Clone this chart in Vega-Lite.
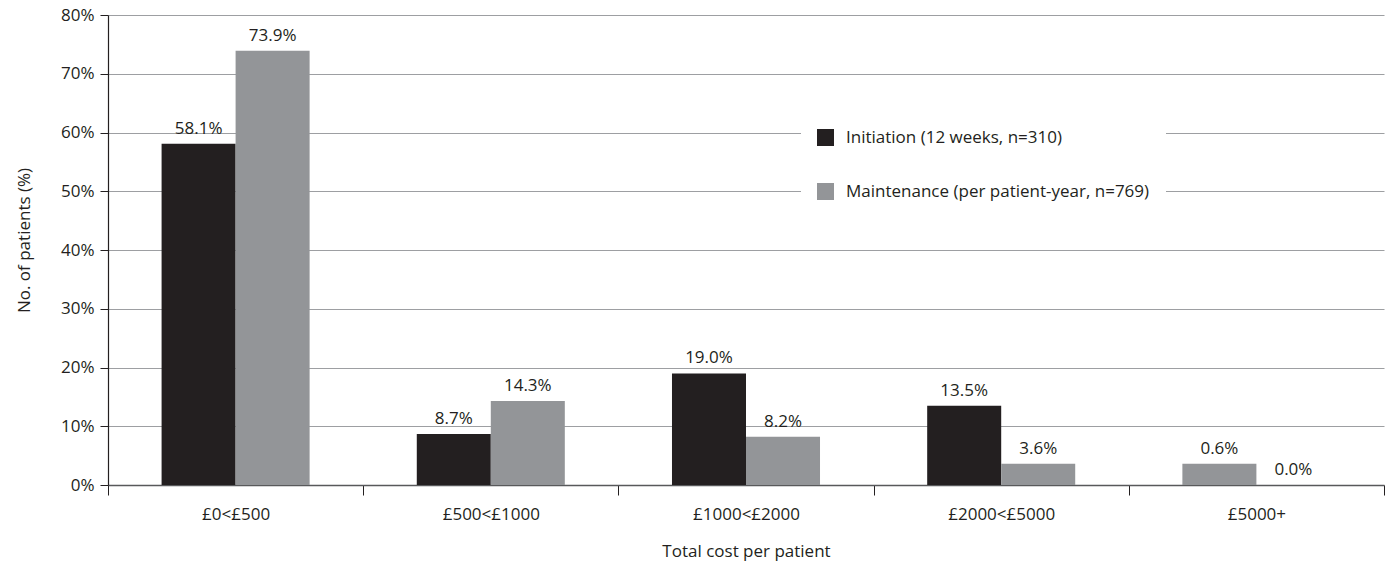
{
  "$schema": "https://vega.github.io/schema/vega-lite/v6.json",
  "width": 1276,
  "height": 470,
  "autosize": {"type": "none"},
  "padding": {"left": 108, "top": 15, "right": 3, "bottom": 79},
  "background": "white",
  "config": {
    "font": "Open Sans",
    "view": {"stroke": null},
    "text": {"font": "Open Sans"}
  },
  "data": {
    "values": [
      {"cost": "£0<£500", "slot": "A", "series": "Initiation (12 weeks, n=310)", "value": 58.1, "label": "58.1%"},
      {"cost": "£0<£500", "slot": "B", "series": "Maintenance (per patient-year, n=769)", "value": 73.9, "label": "73.9%"},
      {"cost": "£500<£1000", "slot": "A", "series": "Initiation (12 weeks, n=310)", "value": 8.7, "label": "8.7%"},
      {"cost": "£500<£1000", "slot": "B", "series": "Maintenance (per patient-year, n=769)", "value": 14.3, "label": "14.3%"},
      {"cost": "£1000<£2000", "slot": "A", "series": "Initiation (12 weeks, n=310)", "value": 19.0, "label": "19.0%"},
      {"cost": "£1000<£2000", "slot": "B", "series": "Maintenance (per patient-year, n=769)", "value": 8.2, "label": "8.2%"},
      {"cost": "£2000<£5000", "slot": "A", "series": "Initiation (12 weeks, n=310)", "value": 13.5, "label": "13.5%"},
      {"cost": "£2000<£5000", "slot": "B", "series": "Maintenance (per patient-year, n=769)", "value": 3.6, "label": "3.6%"},
      {"cost": "£5000+", "slot": "A", "series": "Maintenance (per patient-year, n=769)", "value": 3.6, "label": "0.6%"},
      {"cost": "£5000+", "slot": "B", "series": "Maintenance (per patient-year, n=769)", "value": 0.0, "label": "0.0%"}
    ]
  },
  "encoding": {
    "x": {
      "field": "cost",
      "type": "nominal",
      "sort": null,
      "scale": {"paddingInner": 0, "paddingOuter": 0},
      "axis": {
        "title": "Total cost per patient",
        "titleFont": "Open Sans",
        "titleFontSize": 17,
        "titleFontWeight": "normal",
        "titleColor": "#231f20",
        "titleBaseline": "top",
        "titleY": 58,
        "labelAngle": 0,
        "labelFont": "Open Sans",
        "labelFontSize": 17,
        "labelColor": "#231f20",
        "labelPadding": 11,
        "tickBand": "extent",
        "tickSize": 10,
        "tickColor": "#231f20",
        "domainColor": "#58595b",
        "domainWidth": 1.5,
        "grid": false
      }
    },
    "xOffset": {
      "field": "slot",
      "type": "nominal",
      "scale": {"paddingInner": 0, "paddingOuter": 0.724}
    },
    "y": {
      "field": "value",
      "type": "quantitative",
      "scale": {"domain": [0, 80], "nice": false},
      "axis": {
        "title": "No. of patients (%)",
        "titleFont": "Open Sans",
        "titleFontSize": 17,
        "titleFontWeight": "normal",
        "titleColor": "#231f20",
        "titleX": -75,
        "titleY": 225,
        "values": [0, 10, 20, 30, 40, 50, 60, 70, 80],
        "labelExpr": "datum.value + '%'",
        "labelFont": "Open Sans",
        "labelFontSize": 17,
        "labelColor": "#231f20",
        "labelPadding": 6,
        "tickSize": 8,
        "tickColor": "#231f20",
        "domainColor": "#231f20",
        "domainWidth": 1.2,
        "grid": true,
        "gridColor": "#9d9fa2",
        "gridWidth": 1
      }
    }
  },
  "layer": [
    {
      "mark": {"type": "bar"},
      "encoding": {
        "color": {
          "field": "series",
          "type": "nominal",
          "scale": {
            "domain": ["Initiation (12 weeks, n=310)", "Maintenance (per patient-year, n=769)"],
            "range": ["#231f20", "#939598"]
          },
          "legend": {
            "title": null,
            "orient": "none",
            "legendX": 693,
            "legendY": 98,
            "fillColor": "white",
            "padding": 16,
            "symbolType": "square",
            "symbolSize": 289,
            "symbolStrokeWidth": 0,
            "symbolOpacity": 1,
            "labelFont": "Open Sans",
            "labelFontSize": 17,
            "labelColor": "#231f20",
            "labelOffset": 12,
            "labelLimit": 600,
            "rowPadding": 36
          }
        }
      }
    },
    {
      "mark": {"type": "text", "baseline": "alphabetic", "dy": -10, "fontSize": 17, "color": "#231f20"},
      "encoding": {
        "text": {"field": "label"}
      }
    }
  ]
}
